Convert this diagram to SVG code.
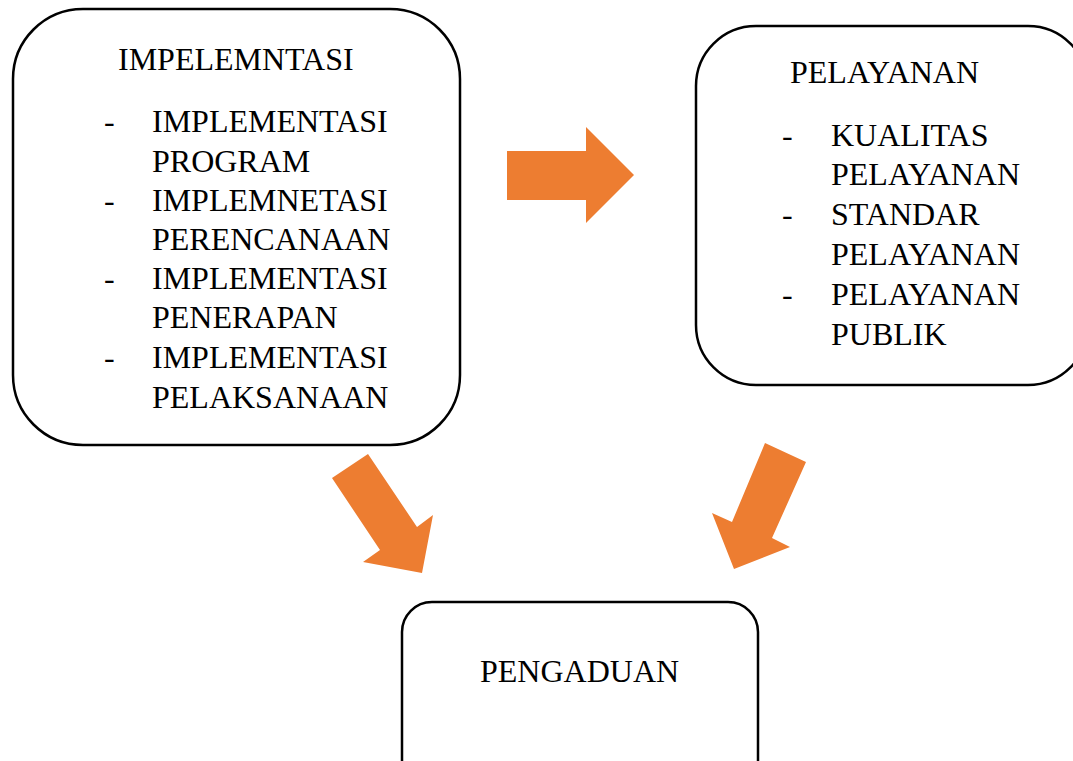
<svg xmlns="http://www.w3.org/2000/svg" width="1073" height="761" viewBox="0 0 1073 761">
<style>
.box{fill:#fff;stroke:#000;stroke-width:2.5}
.t{font-family:"Liberation Serif","Times New Roman",serif;font-size:32px;fill:#000}
.arr{fill:#ED7D31}
</style>
<rect width="1073" height="761" fill="#fff"/>
<g id="node-implementasi">
<rect class="box" x="13" y="9" width="447" height="436" rx="70" ry="70"/>
<text class="t" x="118" y="70">IMPELEMNTASI</text>
<text class="t" x="104" y="132">-</text><text class="t" x="152" y="132">IMPLEMENTASI</text>
<text class="t" x="152" y="172">PROGRAM</text>
<text class="t" x="104" y="211">-</text><text class="t" x="152" y="211">IMPLEMNETASI</text>
<text class="t" x="152" y="250">PERENCANAAN</text>
<text class="t" x="104" y="289">-</text><text class="t" x="152" y="289">IMPLEMENTASI</text>
<text class="t" x="152" y="328">PENERAPAN</text>
<text class="t" x="104" y="368">-</text><text class="t" x="152" y="368">IMPLEMENTASI</text>
<text class="t" x="152" y="408">PELAKSANAAN</text>
</g>
<g id="node-pelayanan">
<rect class="box" x="696" y="26" width="392" height="359" rx="60" ry="60"/>
<text class="t" x="790" y="83">PELAYANAN</text>
<text class="t" x="782" y="146">-</text><text class="t" x="831" y="146">KUALITAS</text>
<text class="t" x="831" y="185">PELAYANAN</text>
<text class="t" x="782" y="225">-</text><text class="t" x="831" y="225">STANDAR</text>
<text class="t" x="831" y="265">PELAYANAN</text>
<text class="t" x="782" y="305">-</text><text class="t" x="831" y="305">PELAYANAN</text>
<text class="t" x="831" y="345">PUBLIK</text>
</g>
<g id="node-pengaduan">
<rect class="box" x="402" y="602" width="356" height="190" rx="30" ry="30"/>
<text class="t" x="480" y="682">PENGADUAN</text>
</g>
<g id="connectors">
<polygon class="arr" points="507,151 586,151 586,127 634,175 586,223 586,200 507,200"/>
<polygon class="arr" points="332,478 368,454 417,527 433,515 422,573 363,562 380,550"/>
<polygon class="arr" points="765,443 806,462 772,538 790,547 734,569 712,513 732,522"/>
</g>
</svg>
